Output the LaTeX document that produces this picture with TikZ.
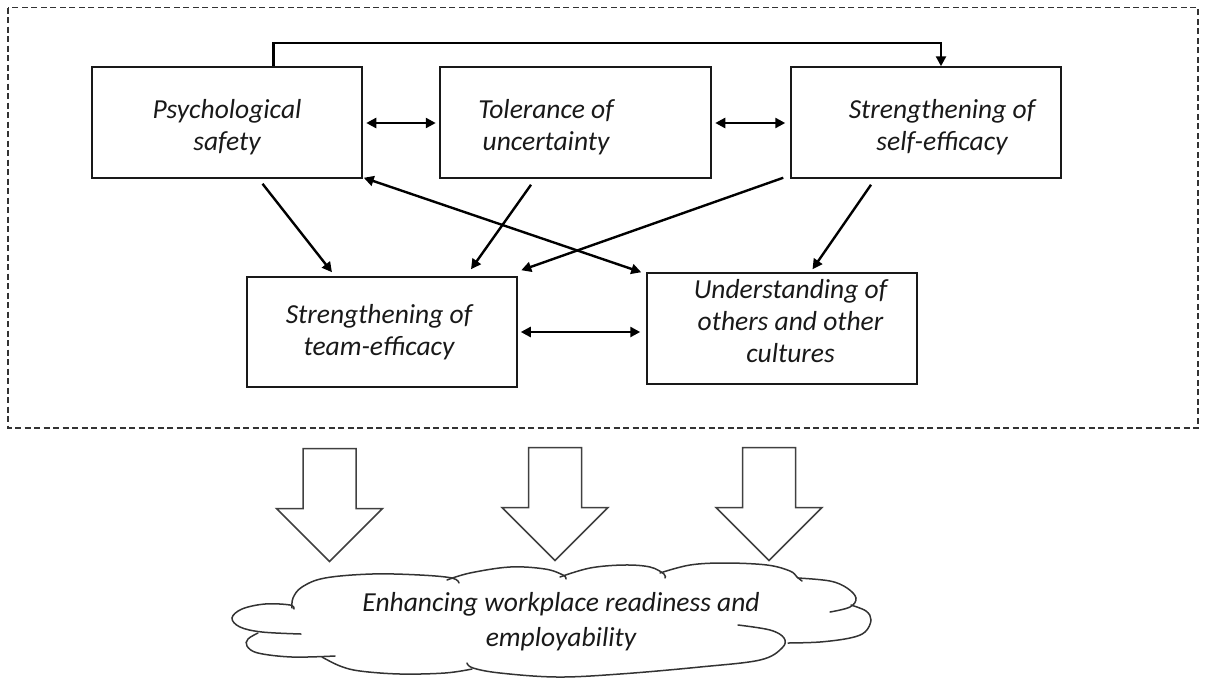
\documentclass[tikz,border=0pt]{standalone}
\usepackage{fontspec}
\setmainfont{Carlito}
\usetikzlibrary{arrows.meta,calc}
\begin{document}
\begin{tikzpicture}[x=1pt,y=-1pt,
  box/.style={draw=black!90, line width=1.5pt, minimum width=270pt, minimum height=111pt, inner sep=0pt},
  txt/.style={font=\fontsize{27.5}{32}\selectfont\itshape, align=center, text=black!90, inner sep=0pt},
  conn/.style={line width=2.4pt, -{Triangle[length=10pt,width=10pt]}},
  dconn/.style={line width=2.4pt, {Triangle[length=10pt,width=10pt]}-{Triangle[length=10pt,width=10pt]}},
  blk/.style={draw=black!75, line width=1.5pt, line join=miter},
  lobe/.style={draw=black!80, line width=1.5pt, line cap=round},
  frame/.style={draw=black!80, line width=1.2pt, dash pattern=on 6pt off 3.5pt}]
\useasboundingbox (0,0) rectangle (1206,678);
% dashed frame
\draw[frame] (8,7.5) rectangle (1198,428);
% boxes
\node[box] (psych) at (227,122.5) {};
\node[box, minimum width=271pt] (tol) at (575.5,122.5) {};
\node[box] (self) at (926,122.5) {};
\node[box, minimum height=110pt] (team) at (382,332) {};
\node[box] (und) at (782,328.5) {};
% texts
\node[txt] (psychT) at (227,127) {Psychological\\safety};
\node[txt] (tolT) at (546,127) {Tolerance of\\uncertainty};
\node[txt] (selfT) at (942,127) {Strengthening of\\self-efficacy};
\node[txt] (teamT) at (379,332) {Strengthening of\\team-efficacy};
\node[txt] (undT) at (790.5,321) {Understanding of\\others and other\\cultures};
% connectors
\draw[conn] ($(psych.north)+(46.6,0)$) -- ++(0,-23) -| ($(self.north)+(15,0)$);
\draw[dconn] ($(psych.east)+(3.5,0.5)$) -- ($(tol.west)+(-3.5,0.5)$);
\draw[dconn] ($(tol.east)+(3.5,0.5)$) -- ($(self.west)+(-5,0.5)$);
\draw[dconn] ($(team.east)+(3,0)$) -- ($(und.west)+(-6,3.5)$);
\draw[conn] ($(psych.south)+(35.5,5)$) -- ($(team.north)+(-50,-4)$);
\draw[conn] ($(tol.south)+(-44.5,6)$) -- ($(team.north)+(89,-7)$);
\draw[conn] ($(self.south west)+(-7,-1)$) -- ($(team.north east)+(3.5,-6)$);
\draw[dconn] ($(psych.south east)+(1,-1)$) -- ($(und.north west)+(-5,0)$);
\draw[conn] ($(self.south)+(-55,6)$) -- ($(und.north)+(30.5,-3)$);
% block arrows
\foreach \cx/\t in {329.5/448.5, 555/447.5, 769/447.5}{
  \draw[blk] (\cx-26.5,\t) -- (\cx+26.5,\t) -- (\cx+26.5,\t+60) -- (\cx+53,\t+60)
    -- (\cx,\t+113) -- (\cx-53,\t+60) -- (\cx-26.5,\t+60) -- cycle;
}
% cloud
\draw[lobe] plot[smooth, tension=0.6] coordinates {(301,634) (262,632) (240,627) (232,618) (242,609) (265,604) (290,605) (294,609)};
\draw[lobe] plot[smooth, tension=0.6] coordinates {(292,608) (293,598) (302,587) (325,578) (372,574) (420,575) (452,578) (459,583)};
\draw[lobe] plot[smooth, tension=0.6] coordinates {(447,580) (470,573) (510,567) (545,569) (563,575) (566,579)};
\draw[lobe] plot[smooth, tension=0.6] coordinates {(560,577) (590,568) (624,565) (650,567) (664,574) (665,578)};
\draw[lobe] plot[smooth, tension=0.6] coordinates {(660,573) (690,565) (725,563) (767,565) (790,571) (797,577) (802,581)};
\draw[lobe] plot[smooth, tension=0.6] coordinates {(798,578) (830,581) (847,588) (856,598) (850,607) (830,612)};
\draw[lobe] plot[smooth, tension=0.6] coordinates {(851,605) (866,611) (871,620) (865,632) (850,638) (820,642) (788,643)};
\draw[lobe] plot[smooth, tension=0.6] coordinates {(738,625) (770,630) (784,638) (782,648) (760,660) (700,667) (620,674) (557,677) (500,673) (473,668) (467,663)};
\draw[lobe] plot[smooth, tension=0.6] coordinates {(322,657) (340,666) (360,671) (400,674) (445,673) (472,669)};
\draw[lobe] plot[smooth, tension=0.6] coordinates {(258,633) (248,639) (247,646) (258,653) (292,657) (335,656)};
\node[txt, font=\fontsize{27.5}{35}\selectfont\itshape] (cloudT) at (561,621.5) {Enhancing workplace readiness and\\employability};
\end{tikzpicture}
\end{document}
